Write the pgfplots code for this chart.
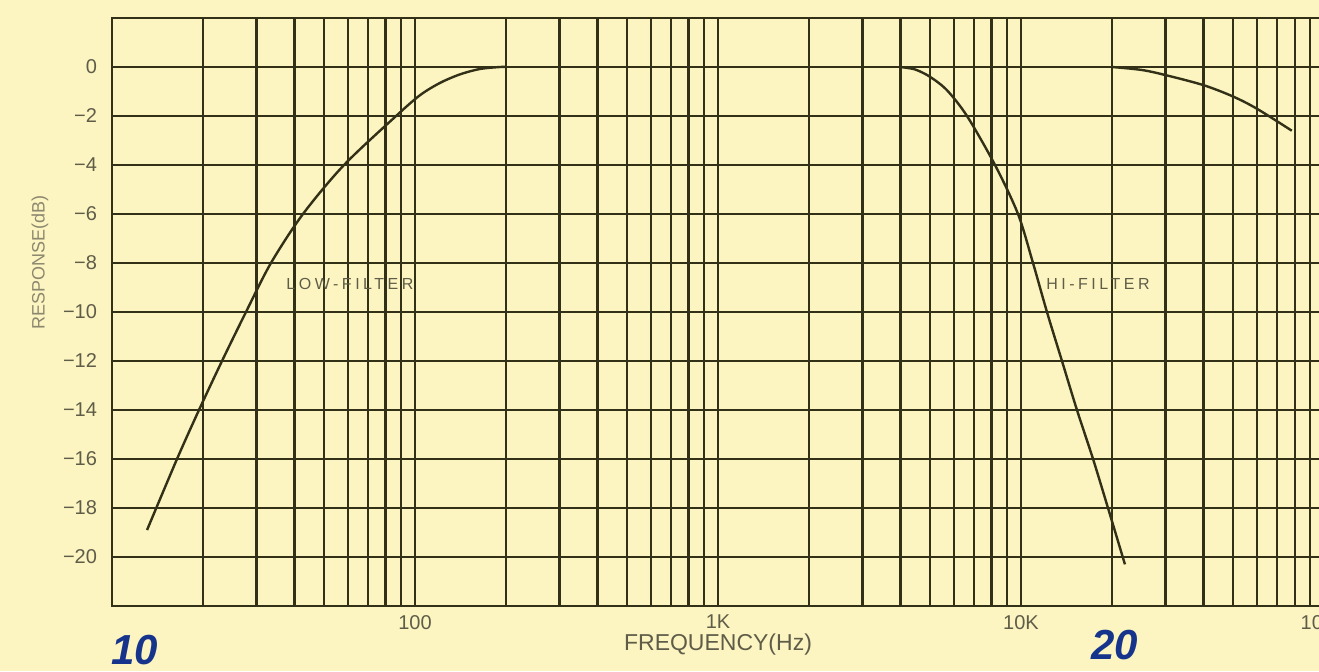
\documentclass[border=0pt]{standalone}
\usepackage{pgfplots}
\pgfplotsset{compat=1.18}
\usepackage{fontspec}
\setmainfont{Liberation Sans}
\newfontfamily\widefont[LetterSpace=22]{Liberation Sans}
\definecolor{bg}{RGB}{252,245,194}
\definecolor{ink}{RGB}{50,48,22}
\definecolor{txt}{RGB}{95,92,72}
\definecolor{lighttxt}{RGB}{140,135,110}
\definecolor{pen}{RGB}{22,52,140}
\begin{document}
\begin{tikzpicture}[x=1pt,y=1pt]
\useasboundingbox (-56,-32.5) rectangle (603.5,303);
\clip (-56,-32.5) rectangle (603.5,303);
\fill[bg] (-56,-32.5) rectangle (603.5,303);
\begin{axis}[
  at={(0,0)}, anchor=south west,
  scale only axis, width=606pt, height=294pt,
  xmode=log, xmin=10, xmax=100000, ymin=-22, ymax=2,
  xtick={20,30,40,50,60,70,80,90,100,200,300,400,500,600,700,800,900,1000,2000,3000,4000,5000,6000,7000,8000,9000,10000,20000,30000,40000,50000,60000,70000,80000,90000,100000},
  xticklabels={,,,,,,,,100,,,,,,,,,1K,,,,,,,,,10K,,,,,,,,,100K},
  ytick={-20,-18,-16,-14,-12,-10,-8,-6,-4,-2,0},
  yticklabels={−20,−18,−16,−14,−12,−10,−8,−6,−4,−2,0},
  xmajorgrids=true, ymajorgrids=true, xminorgrids=false, yminorgrids=false,
  major grid style={ink, line width=1.15pt},
  major tick length=0pt, minor tick length=0pt,
  axis line style={ink, line width=1.3pt},
  tick label style={txt, font=\fontsize{10}{12}\selectfont},
  yticklabel style={xshift=-4pt},
  xticklabel style={yshift=-1pt},
  xlabel={FREQUENCY(Hz)},
  xlabel style={txt, font=\fontsize{11.5}{13}\selectfont, at={(axis description cs:0.5,0)}, anchor=center, yshift=-19.5pt},
  ylabel={RESPONSE(dB)},
  ylabel style={lighttxt, font=\fontsize{9}{11}\selectfont, at={(axis description cs:-0.0594,0.585)}, anchor=center},
  clip=false,
]
\addplot[ink, line width=1.2pt, smooth, tension=0.5] coordinates {
  (13.05,-18.9) (16.39,-16) (19.37,-14) (23.07,-12) (27.68,-10)
  (33.47,-8) (42.69,-6) (58.3,-4) (86.6,-2) (103.9,-1.15) (120.9,-0.65)
  (140.8,-0.3) (163.9,-0.08) (190.8,0) (200,0)
};
\addplot[ink, line width=1.2pt, smooth, tension=0.5] coordinates {
  (3988,0) (4469,-0.1) (5008,-0.4) (5699,-0.95) (6634,-2) (8208,-4)
  (9774,-6) (10955,-8) (12180,-10) (13653,-12) (15300,-14) (17290,-16)
  (19370,-18) (22030,-20.3)
};
\addplot[ink, line width=1.2pt, smooth, tension=0.5] coordinates {
  (20000,0) (25000,-0.12) (30000,-0.33) (40000,-0.74) (50000,-1.2)
  (60000,-1.7) (78300,-2.6)
};
\node[txt, font=\fontsize{8}{9}\widefont] at (axis cs:61,-8.85) {LOW-FILTER};
\node[txt, font=\fontsize{8}{9}\widefont] at (axis cs:17950,-8.85) {HI-FILTER};
\end{axis}
\node[pen, font=\fontsize{21}{24}\selectfont\bfseries\itshape] at (11.5,-22) {10};
\node[pen, font=\fontsize{21}{24}\selectfont\bfseries\itshape] at (501.5,-19.5) {20};
\end{tikzpicture}
\end{document}
